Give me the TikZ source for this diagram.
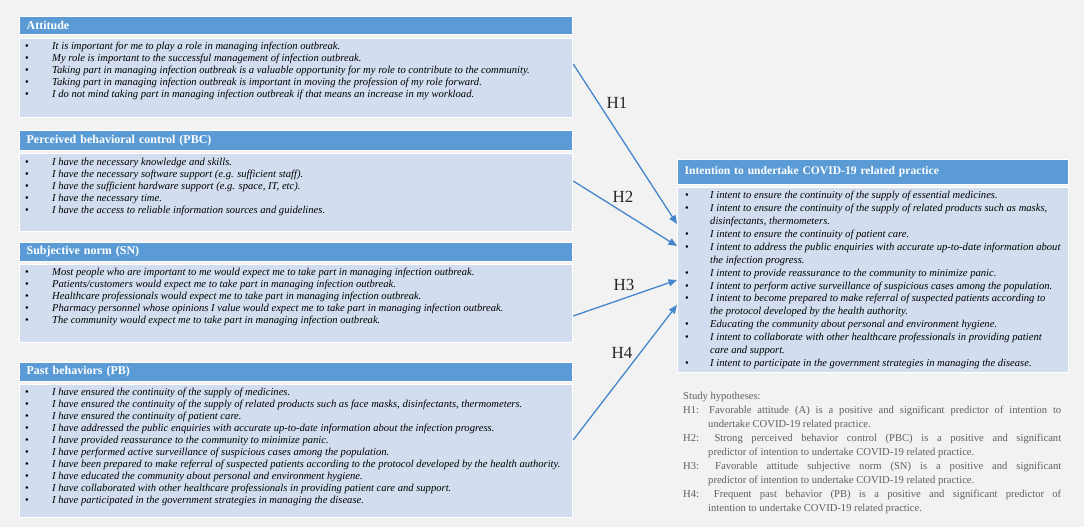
\documentclass[tikz,border=0pt]{standalone}
\usepackage{fontspec}
\setmainfont{Liberation Serif}
\usetikzlibrary{arrows.meta}
\definecolor{bggrey}{RGB}{242,242,242}
\definecolor{hdrblue}{RGB}{91,155,213}
\definecolor{bodyblue}{RGB}{210,222,239}
\definecolor{arrowblue}{RGB}{68,134,204}
\definecolor{hypgrey}{RGB}{96,96,96}
\newcommand\bitem[1]{\strut\makebox[27pt][l]{\textbullet}\textit{#1}}
\newcommand\ritem[1]{\strut\makebox[25pt][l]{\textbullet}\textit{#1}}
\newcommand\rcont[1]{\strut\hspace*{25pt}\textit{#1}}
\begin{document}
\begin{tikzpicture}[x=1pt,y=-1pt,
  hdr/.style={fill=hdrblue, draw=white, line width=1.2pt, inner xsep=7pt, inner ysep=0pt,
    anchor=north west, align=left, text=white, font=\fontsize{12}{13}\selectfont\bfseries},
  bodybox/.style={fill=bodyblue, draw=white, line width=1.2pt, inner sep=0pt, anchor=north west},
  items/.style={anchor=north west, inner sep=0pt, align=left, font=\fontsize{10.6}{12}\selectfont},
  ritems/.style={anchor=north west, inner sep=0pt, align=left, font=\fontsize{10.6}{12.9}\selectfont},
  hlabel/.style={font=\fontsize{17}{20}\selectfont, text=black!85, inner sep=0pt},
  conn/.style={draw=arrowblue, line width=1.3pt, -{Triangle[length=8.5pt,width=7pt]}}]
\fill[bggrey] (0,0) rectangle (1084,527);
% Attitude
\node[hdr, minimum width=553pt, minimum height=18pt, text width=539pt] (atth) at (19,16) {Attitude};
\node[bodybox, minimum width=553pt, minimum height=79pt] (attb) at (19,38) {};
\node[items] (attt) at (25,41) {\bitem{It is important for me to play a role in managing infection outbreak.}\\
\bitem{My role is important to the successful management of infection outbreak.}\\
\bitem{Taking part in managing infection outbreak is a valuable opportunity for my role to contribute to the community.}\\
\bitem{Taking part in managing infection outbreak is important in moving the profession of my role forward.}\\
\bitem{I do not mind taking part in managing infection outbreak if that means an increase in my workload.}};
% PBC
\node[hdr, minimum width=553pt, minimum height=20pt, text width=539pt] (pbch) at (19,130) {Perceived behavioral control (PBC)};
\node[bodybox, minimum width=553pt, minimum height=78pt] (pbcb) at (19,153) {};
\node[items] (pbct) at (25,157) {\bitem{I have the necessary knowledge and skills.}\\
\bitem{I have the necessary software support (e.g. sufficient staff).}\\
\bitem{I have the sufficient hardware support (e.g. space, IT, etc).}\\
\bitem{I have the necessary time.}\\
\bitem{I have the access to reliable information sources and guidelines.}};
% SN
\node[hdr, minimum width=553pt, minimum height=19pt, text width=539pt] (snh) at (19,242) {Subjective norm (SN)};
\node[bodybox, minimum width=553pt, minimum height=78pt] (snb) at (19,264) {};
\node[items] (snt) at (25,267) {\bitem{Most people who are important to me would expect me to take part in managing infection outbreak.}\\
\bitem{Patients/customers would expect me to take part in managing infection outbreak.}\\
\bitem{Healthcare professionals would expect me to take part in managing infection outbreak.}\\
\bitem{Pharmacy personnel whose opinions I value would expect me to take part in managing infection outbreak.}\\
\bitem{The community would expect me to take part in managing infection outbreak.}};
% PB
\node[hdr, minimum width=553pt, minimum height=19pt, text width=539pt] (pbh) at (19,362) {Past behaviors (PB)};
\node[bodybox, minimum width=553pt, minimum height=133pt] (pbb) at (19,384) {};
\node[items] (pbt) at (25,387) {\bitem{I have ensured the continuity of the supply of medicines.}\\
\bitem{I have ensured the continuity of the supply of related products such as face masks, disinfectants, thermometers.}\\
\bitem{I have ensured the continuity of patient care.}\\
\bitem{I have addressed the public enquiries with accurate up-to-date information about the infection progress.}\\
\bitem{I have provided reassurance to the community to minimize panic.}\\
\bitem{I have performed active surveillance of suspicious cases among the population.}\\
\bitem{I have been prepared to make referral of suspected patients according to the protocol developed by the health authority.}\\
\bitem{I have educated the community about personal and environment hygiene.}\\
\bitem{I have collaborated with other healthcare professionals in providing patient care and support.}\\
\bitem{I have participated in the government strategies in managing the disease.}};
% Intention
\node[hdr, font=\fontsize{11.6}{14}\selectfont\bfseries, minimum width=391pt, minimum height=25pt, text width=377pt] (inth) at (677,159) {Intention to undertake COVID-19 related practice};
\node[bodybox, minimum width=391pt, minimum height=185pt] (intb) at (677,187) {};
\node[ritems] (intt) at (685,189.5) {\ritem{I intent to ensure the continuity of the supply of essential medicines.}\\
\ritem{I intent to ensure the continuity of the supply of related products such as masks,}\\
\rcont{disinfectants, thermometers.}\\
\ritem{I intent to ensure the continuity of patient care.}\\
\ritem{I intent to address the public enquiries with accurate up-to-date information about}\\
\rcont{the infection progress.}\\
\ritem{I intent to provide reassurance to the community to minimize panic.}\\
\ritem{I intent to perform active surveillance of suspicious cases among the population.}\\
\ritem{I intent to become prepared to make referral of suspected patients according to}\\
\rcont{the protocol developed by the health authority.}\\
\ritem{Educating the community about personal and environment hygiene.}\\
\ritem{I intent to collaborate with other healthcare professionals in providing patient}\\
\rcont{care and support.}\\
\ritem{I intent to participate in the government strategies in managing the disease.}};
% Hypotheses
\node[anchor=north west, inner sep=0pt, text width=378pt, align=justify, text=hypgrey,
  font=\fontsize{10.6}{14}\selectfont] (hyp) at (683,389.5) {\parindent=0pt\strut Study hypotheses:\par
\hangindent=25pt\hangafter=1 H1: Favorable attitude (A) is a positive and significant predictor of intention to\linebreak undertake COVID-19 related practice.\par
\hangindent=25pt\hangafter=1 H2: Strong perceived behavior control (PBC) is a positive and significant\linebreak predictor of intention to undertake COVID-19 related practice.\par
\hangindent=25pt\hangafter=1 H3: Favorable attitude subjective norm (SN) is a positive and significant\linebreak predictor of intention to undertake COVID-19 related practice.\par
\hangindent=25pt\hangafter=1 H4: Frequent past behavior (PB) is a positive and significant predictor of\linebreak intention to undertake COVID-19 related practice.\par};
% Connectors
\coordinate (s1) at (attb.east |- 0,64);
\coordinate (s2) at (pbcb.east |- 0,181);
\coordinate (s3) at (snb.east |- 0,316);
\coordinate (s4) at (pbb.east |- 0,440);
\coordinate (t1) at (intb.west |- 0,224);
\coordinate (t2) at (intb.west |- 0,246);
\coordinate (t3) at (intb.west |- 0,280);
\coordinate (t4) at (intb.west |- 0,305);
\draw[conn] (s1) -- (t1);
\draw[conn] (s2) -- (t2);
\draw[conn] (s3) -- (t3);
\draw[conn] (s4) -- (t4);
\node[hlabel] (l1) at (617,103) {H1};
\node[hlabel] (l2) at (623,197) {H2};
\node[hlabel] (l3) at (624,285) {H3};
\node[hlabel] (l4) at (622,353) {H4};
\end{tikzpicture}
\end{document}
